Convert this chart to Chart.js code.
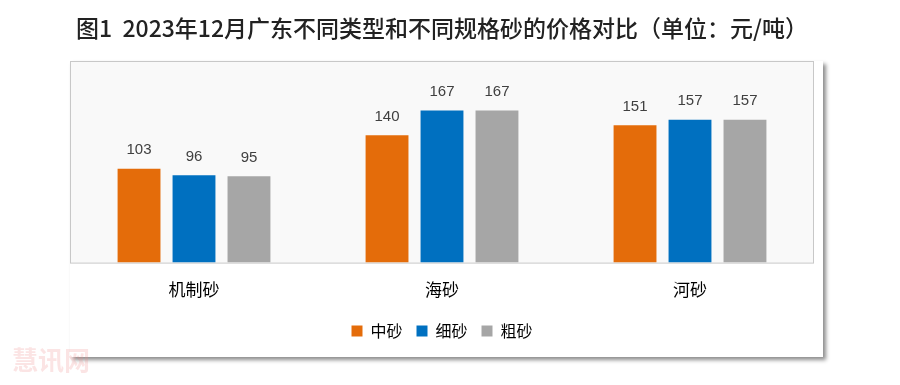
<!DOCTYPE html>
<html>
<head>
<meta charset="utf-8">
<script src="https://cdn.jsdelivr.net/npm/chart.js@4"></script>
<style>
  html, body { margin: 0; padding: 0; background: #fff; }
  #wrap { width: 900px; height: 385px; position: relative; }
</style>
</head>
<body>
<div id="wrap"><canvas id="myChart" width="900" height="385"></canvas></div>
<script>
// categories and series
const categories = ['机制砂', '海砂', '河砂'];
const zhongSha = [103, 140, 151];
const xiSha = [96, 167, 157];
const cuSha = [95, 167, 157];

const numFont = '"Liberation Sans", "Noto Sans CJK SC", sans-serif';
const cjkFont = '"Noto Sans CJK SC", "Liberation Sans", sans-serif';

// outer box with shadow + plot area background
const boxPlugin = {
  id: 'boxPlugin',
  beforeDraw(chart) {
    const ctx = chart.ctx;
    const a = chart.chartArea;
    ctx.save();
    ctx.shadowColor = 'rgba(0,0,0,0.45)';
    ctx.shadowBlur = 4;
    ctx.shadowOffsetX = 3;
    ctx.shadowOffsetY = 3;
    ctx.fillStyle = '#ffffff';
    ctx.fillRect(a.left, a.top, 753, 296);
    ctx.restore();
    ctx.save();
    ctx.fillStyle = '#f9f9f9';
    ctx.fillRect(a.left, a.top, a.right - a.left, a.bottom - a.top);
    ctx.strokeStyle = '#c8c8c8';
    ctx.lineWidth = 1;
    ctx.strokeRect(a.left + 0.5, a.top + 0.5, a.right - a.left - 1, a.bottom - a.top);
    ctx.restore();
    // watermark
    ctx.save();
    ctx.fillStyle = 'rgba(235,130,130,0.22)';
    ctx.font = 'bold 26px "Noto Sans CJK SC"';
    ctx.textBaseline = 'middle';
    ctx.fillText('慧讯网', 12, 360);
    ctx.restore();
  }
};

// value labels above bars
const valuePlugin = {
  id: 'valuePlugin',
  afterDatasetsDraw(chart) {
    const ctx = chart.ctx;
    ctx.save();
    ctx.font = '15px ' + numFont;
    ctx.fillStyle = '#404040';
    ctx.textAlign = 'center';
    ctx.textBaseline = 'bottom';
    chart.data.datasets.forEach((ds, i) => {
      const meta = chart.getDatasetMeta(i);
      meta.data.forEach((bar, j) => {
        ctx.fillText(ds.data[j], bar.x, bar.y - 11);
      });
    });
    ctx.restore();
  }
};

const data = {
  labels: categories,
  datasets: [
    { label: '中砂', data: zhongSha, backgroundColor: '#E46C0A' },
    { label: '细砂', data: xiSha, backgroundColor: '#0070C0' },
    { label: '粗砂', data: cuSha, backgroundColor: '#A6A6A6' }
  ]
};

const config = {
  type: 'bar',
  data,
  options: {
    responsive: false,
    animation: false,
    categoryPercentage: 0.665,
    barPercentage: 0.78,
    layout: { padding: { left: 70, right: 86, top: 0, bottom: 36 } },
    scales: {
      y: { display: false, min: 0, max: 221.5 },
      x: {
        grid: { display: false },
        border: { display: false },
        ticks: { color: '#000', padding: 9, font: { size: 17, family: cjkFont } }
      }
    },
    plugins: {
      title: {
        display: true,
        text: '图1  2023年12月广东不同类型和不同规格砂的价格对比（单位：元/吨）',
        color: '#222',
        font: { size: 23, weight: 500, family: cjkFont },
        padding: { top: 14.5, bottom: 18.9 }
      },
      legend: {
        position: 'bottom',
        labels: {
          color: '#000',
          boxWidth: 11,
          boxHeight: 11,
          padding: 14,
          font: { size: 16, family: cjkFont }
        }
      },
      tooltip: { enabled: false }
    }
  },
  plugins: [boxPlugin, valuePlugin]
};

const myChart = new Chart(document.getElementById('myChart'), config);
</script>
</body>
</html>
